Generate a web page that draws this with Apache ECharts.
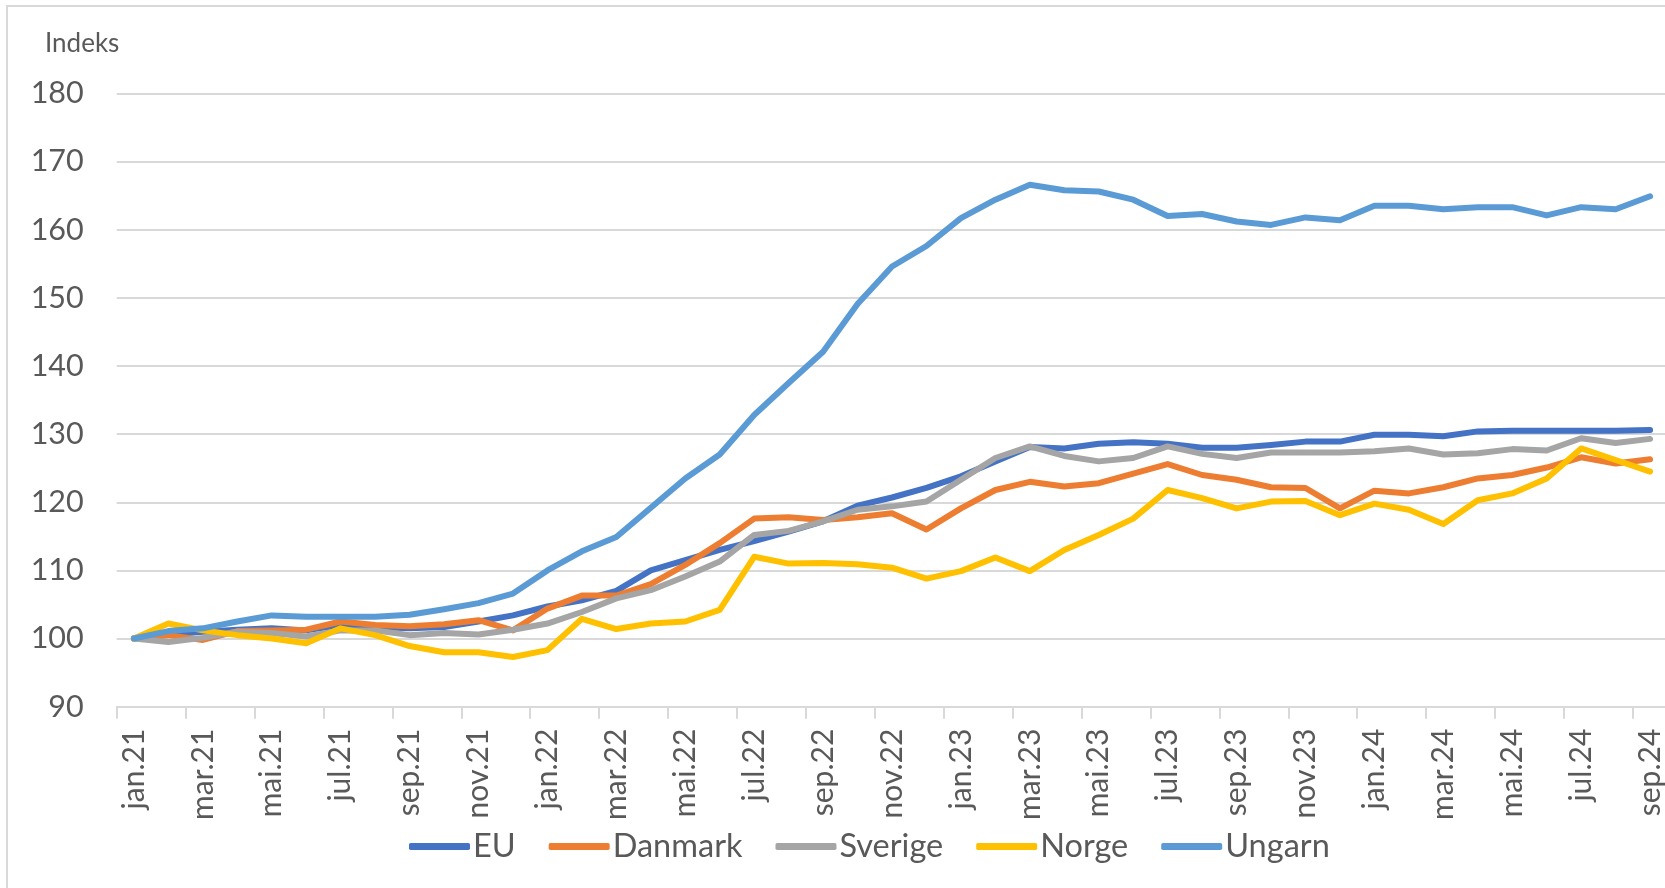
<!DOCTYPE html>
<html>
<head>
<meta charset="utf-8">
<script src="https://cdn.jsdelivr.net/npm/echarts@6/dist/echarts.min.js"></script>
<style>
  html, body { margin: 0; padding: 0; background: #ffffff; }
  #chart { width: 1665px; height: 888px; }
</style>
</head>
<body>
<div id="chart"></div>
<script>
const months = [
  'jan.21','feb.21','mar.21','apr.21','mai.21','jun.21','jul.21','aug.21','sep.21','okt.21','nov.21','des.21',
  'jan.22','feb.22','mar.22','apr.22','mai.22','jun.22','jul.22','aug.22','sep.22','okt.22','nov.22','des.22',
  'jan.23','feb.23','mar.23','apr.23','mai.23','jun.23','jul.23','aug.23','sep.23','okt.23','nov.23','des.23',
  'jan.24','feb.24','mar.24','apr.24','mai.24','jun.24','jul.24','aug.24','sep.24'
];

const seriesNames = ['EU', 'Danmark', 'Sverige', 'Norge', 'Ungarn'];

const eu = [
  100, 100.6, 101.0, 101.3, 101.5, 101.2, 102.0, 101.7, 101.5, 101.7, 102.5, 103.4,
  104.7, 105.6, 107.0, 110.0, 111.5, 113.0, 114.3, 115.7, 117.2, 119.5, 120.7, 122.1,
  123.8, 126.0, 128.1, 127.9, 128.6, 128.8, 128.6, 128.0, 128.0, 128.4, 128.9, 128.9,
  129.9, 129.9, 129.7, 130.4, 130.5, 130.5, 130.5, 130.5, 130.6
];
const danmark = [
  100, 100.5, 99.8, 101.1, 101.2, 101.3, 102.5, 102.0, 101.8, 102.1, 102.7, 101.2,
  104.4, 106.3, 106.3, 108.0, 110.8, 114.0, 117.6, 117.8, 117.4, 117.8, 118.4, 116.0,
  119.1, 121.8, 123.0, 122.3, 122.8, 124.2, 125.6, 124.0, 123.3, 122.2, 122.1, 119.1,
  121.7, 121.3, 122.2, 123.5, 124.0, 125.1, 126.6, 125.7, 126.3
];
const sverige = [
  100, 99.5, 100.1, 101.0, 100.8, 100.3, 101.2, 101.2, 100.5, 100.8, 100.6, 101.3,
  102.2, 103.9, 105.9, 107.1, 109.1, 111.3, 115.2, 115.8, 117.2, 118.9, 119.4, 120.1,
  123.3, 126.5, 128.2, 126.8, 126.0, 126.5, 128.2, 127.1, 126.5, 127.3, 127.3, 127.3,
  127.5, 127.9, 127.0, 127.2, 127.8, 127.6, 129.4, 128.7, 129.3
];
const norge = [
  100, 102.2, 101.2, 100.5, 100.0, 99.3, 101.5, 100.5, 98.9, 98.0, 98.0, 97.3,
  98.3, 102.9, 101.4, 102.2, 102.5, 104.2, 112.0, 111.0, 111.1, 110.9, 110.4, 108.8,
  109.9, 111.9, 109.9, 113.0, 115.2, 117.6, 121.8, 120.6, 119.1, 120.1, 120.2, 118.1,
  119.8, 118.9, 116.8, 120.3, 121.3, 123.5, 127.9, 126.2, 124.5
];
const ungarn = [
  100, 101.1, 101.5, 102.5, 103.4, 103.2, 103.2, 103.2, 103.5, 104.3, 105.2, 106.6,
  110.0, 112.8, 114.9, 119.2, 123.5, 127.0, 132.8, 137.5, 142.1, 149.1, 154.6, 157.6,
  161.7, 164.4, 166.6, 165.8, 165.6, 164.4, 162.0, 162.3, 161.2, 160.7, 161.8, 161.4,
  163.5, 163.5, 163.0, 163.3, 163.3, 162.1, 163.3, 163.0, 164.9
];

const colors = ['#4472C4', '#ED7D31', '#A5A5A5', '#FFC000', '#5B9BD5'];
const values = [eu, danmark, sverige, norge, ungarn];

const FONT = 'Lato';
const TEXT_COLOR = '#595959';
const GRID_COLOR = '#d9d9d9';

const chart = echarts.init(document.getElementById('chart'), null, { renderer: 'canvas' });

const option = {
  backgroundColor: '#ffffff',
  animation: false,
  color: colors,
  textStyle: { fontFamily: FONT },
  graphic: [
    {
      type: 'rect',
      shape: { x: 7, y: 6, width: 1720, height: 1000 },
      style: { fill: 'none', stroke: GRID_COLOR, lineWidth: 2 },
      silent: true
    },
    {
      type: 'text',
      x: 45,
      y: 44,
      style: {
        text: 'Indeks',
        fill: TEXT_COLOR,
        font: '26px ' + FONT,
        verticalAlign: 'middle',
        align: 'left'
      },
      silent: true
    }
  ],
  grid: {
    left: 116.7,
    top: 93.4,
    width: 1550.6,
    height: 613.3,
    containLabel: false,
    outerBoundsMode: 'none'
  },
  legend: {
    data: seriesNames,
    left: 404,
    top: 825,
    itemWidth: 61,
    itemHeight: 7,
    itemGap: 33,
    icon: 'roundRect',
    textStyle: { fontFamily: FONT, fontSize: 32.5, color: TEXT_COLOR, padding: [0, 0, 0, -2] }
  },
  xAxis: {
    type: 'category',
    data: months,
    boundaryGap: true,
    axisLine: { show: true, lineStyle: { color: GRID_COLOR, width: 2 } },
    axisTick: { show: true, interval: 1, length: 12, lineStyle: { color: GRID_COLOR, width: 2 } },
    axisLabel: {
      interval: 1,
      rotate: 90,
      margin: 22,
      fontFamily: FONT,
      fontSize: 30,
      color: TEXT_COLOR
    },
    splitLine: { show: false }
  },
  yAxis: {
    type: 'value',
    min: 90,
    max: 180,
    interval: 10,
    axisLine: { show: false },
    axisTick: { show: false },
    axisLabel: { margin: 33, fontFamily: FONT, fontSize: 30.5, color: TEXT_COLOR },
    splitLine: { show: true, lineStyle: { color: GRID_COLOR, width: 2 } }
  },
  series: seriesNames.map((name, k) => ({
    name: name,
    type: 'line',
    data: values[k],
    showSymbol: false,
    symbol: 'none',
    smooth: false,
    lineStyle: { width: 6, color: colors[k], cap: 'round', join: 'round' },
    itemStyle: { color: colors[k] },
    emphasis: { disabled: true }
  }))
};

chart.setOption(option);
</script>
</body>
</html>
